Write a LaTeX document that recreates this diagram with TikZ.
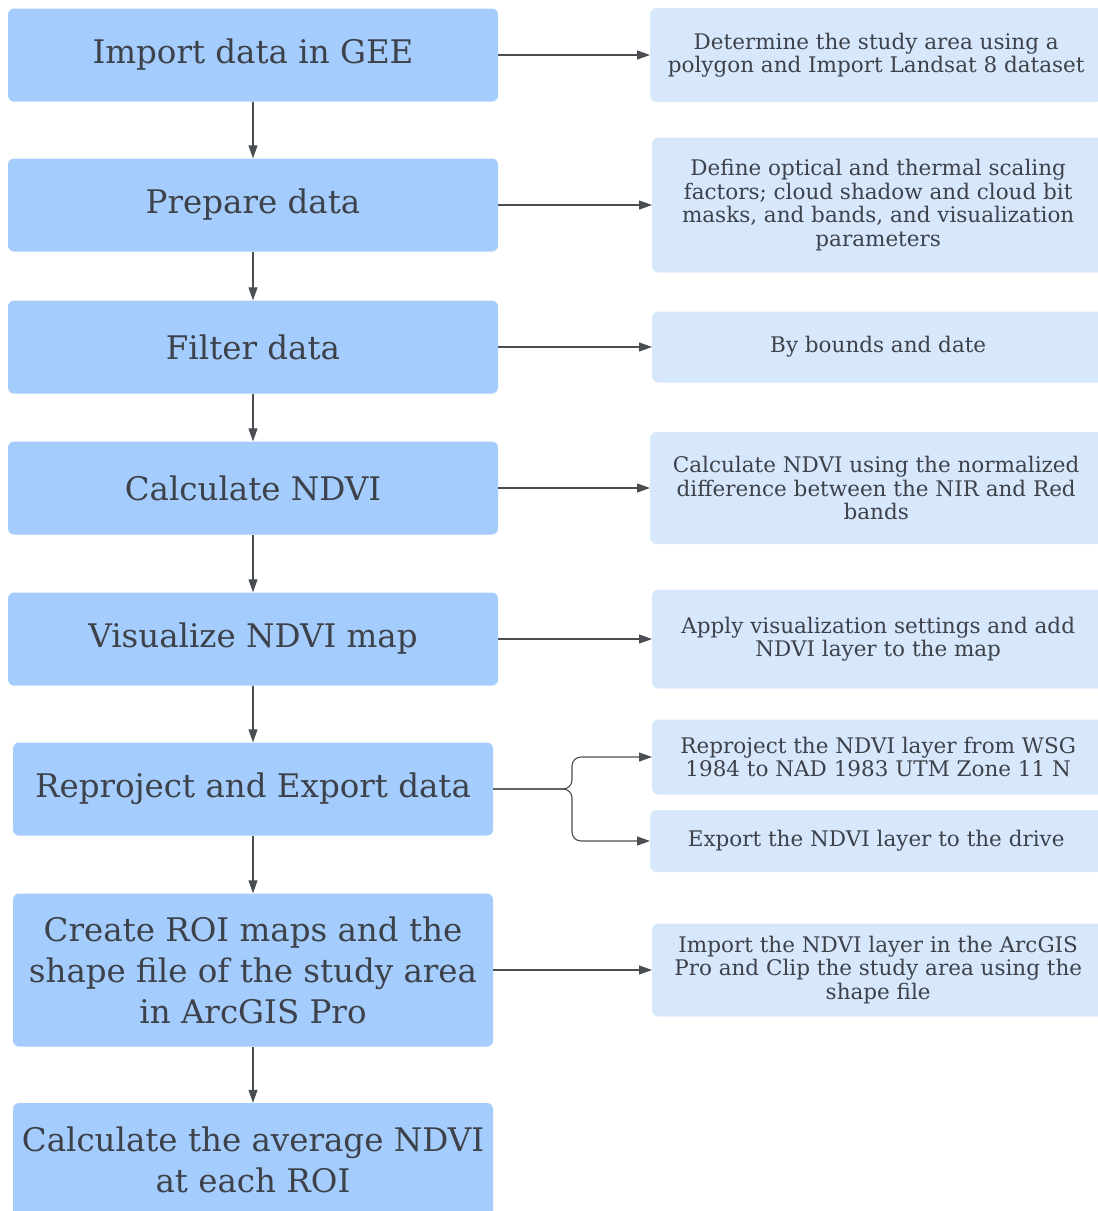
\documentclass[tikz,border=0pt]{standalone}
\usepackage{fontspec}
\setmainfont{DejaVu Serif}
\usetikzlibrary{arrows.meta}

\definecolor{stepblue}{HTML}{A4CCFC}
\definecolor{noteblue}{HTML}{D7E8FD}
\definecolor{inkgray}{HTML}{3D4149}
\definecolor{linegray}{HTML}{4A4D52}

\begin{document}
\begin{tikzpicture}[x=1pt,y=-1pt,
	stepbox/.style={fill=stepblue, rounded corners=6pt, minimum width=490pt, minimum height=93pt,
		align=center, text=inkgray, inner sep=0pt, font=\fontsize{32.5}{41}\selectfont},
	notebox/.style={fill=noteblue, rounded corners=6pt, minimum width=452pt, anchor=west,
		align=center, text=inkgray, inner sep=0pt, font=\fontsize{21.5}{23.5}\selectfont},
	link/.style={draw=linegray, line width=1.1pt, -{Triangle[length=13pt,width=9pt]}}]
	
	% Page
	\useasboundingbox (0,0) rectangle (1098,1211);
	
	% Steps
	\node[stepbox] (imp) at (253,55) {Import data in GEE};
	\node[stepbox] (prep) at (253,205) {Prepare data};
	\node[stepbox] (filt) at (253,347) {Filter data};
	\node[stepbox] (calc) at (253,488) {Calculate NDVI};
	\node[stepbox] (vis) at (253,639) {Visualize NDVI map};
	\node[stepbox, minimum width=480pt] (repr) at (253,789) {Reproject and Export data};
	\node[stepbox, minimum width=480pt, minimum height=153pt] (roi) at (253,970)
		{Create ROI maps and the\\shape file of the study area\\in ArcGIS Pro};
	\node[stepbox, minimum width=480pt, minimum height=114pt] (avg) at (253,1160)
		{Calculate the average NDVI\\at each ROI};
	
	% Notes
	\node[notebox, minimum height=94pt] (n1) at (650,55)
		{Determine the study area using a\\polygon and Import Landsat 8 dataset};
	\node[notebox, minimum height=135pt] (n2) at (652,205)
		{Define optical and thermal scaling\\factors; cloud shadow and cloud bit\\masks, and bands, and visualization\\parameters};
	\node[notebox, minimum height=71pt] (n3) at (652,347) {By bounds and date};
	\node[notebox, minimum height=112pt] (n4) at (650,488)
		{Calculate NDVI using the normalized\\difference between the NIR and Red\\bands};
	\node[notebox, minimum height=99pt] (n5) at (652,639)
		{Apply visualization settings and add\\NDVI layer to the map};
	\node[notebox, minimum height=75pt] (n6a) at (652,757)
		{Reproject the NDVI layer from WSG\\1984 to NAD 1983 UTM Zone 11 N};
	\node[notebox, minimum height=62pt] (n6b) at (650,841) {Export the NDVI layer to the drive};
	\node[notebox, minimum height=93pt] (n7) at (652,970)
		{Import the NDVI layer in the ArcGIS\\Pro and Clip the study area using the\\shape file};
	
	% Flow down the steps
	\foreach \a/\b in {imp/prep, prep/filt, filt/calc, calc/vis, vis/repr, repr/roi, roi/avg}
	\draw[link] (\a.south) -- (\b.north);
	
	% Steps to notes
	\foreach \a/\b in {imp/n1, prep/n2, filt/n3, calc/n4, vis/n5, roi/n7}
	\draw[link] (\a.east) -- (\b.west);
	
	% Split for the export step
	\coordinate (fork) at (572,789);
	\draw[link, rounded corners=9pt] (repr.east) -- (fork) |- (n6a.west);
	\draw[link, rounded corners=9pt] (repr.east) -- (fork) |- (n6b.west);
\end{tikzpicture}
\end{document}
